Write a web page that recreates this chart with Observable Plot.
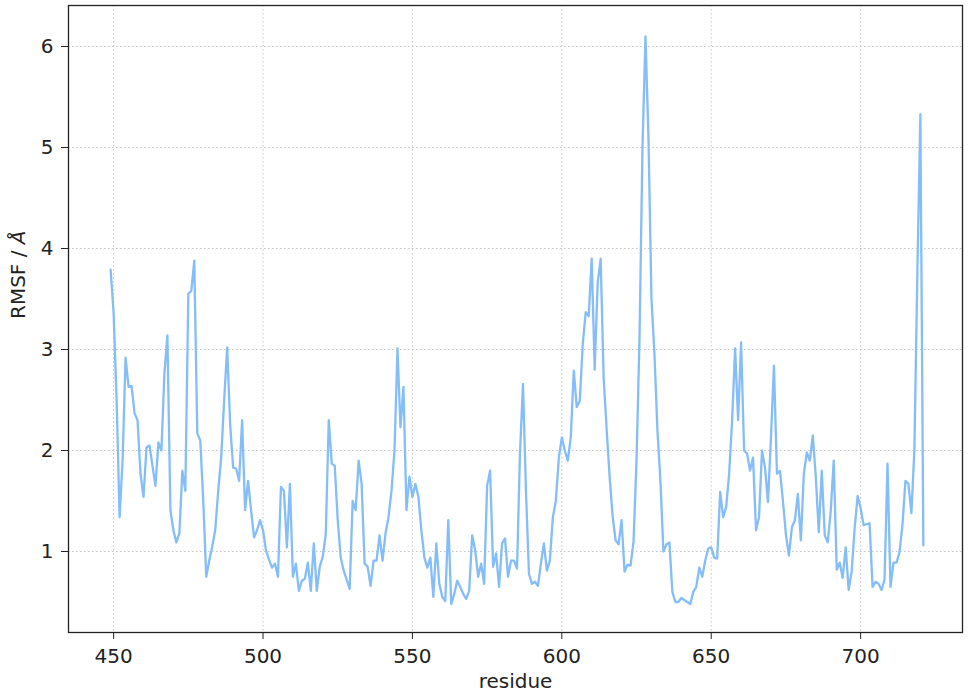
<!DOCTYPE html>
<html>
<head>
<meta charset="utf-8">
<script src="https://cdn.jsdelivr.net/npm/d3@7"></script>
<script src="https://cdn.jsdelivr.net/npm/@observablehq/plot@0.6"></script>
<style>
  body { margin: 0; background: #fff; }
  #chart svg { display: block; }
</style>
</head>
<body>
<div id="chart"></div>
<script>
// Residue numbers 449..721
const residues = d3.range(449, 722);

// RMSF values (Å), one per residue
const rmsf = [
  3.79, 3.36, 2.50, 1.34, 1.90, 2.92, 2.63, 2.64, 2.37, 2.30,
  1.77, 1.54, 2.03, 2.05, 1.85, 1.65, 2.08, 2.00, 2.76, 3.14,
  1.41, 1.21, 1.09, 1.18, 1.80, 1.60, 3.55, 3.58, 3.88, 2.17,
  2.10, 1.50, 0.75, 0.91, 1.05, 1.21, 1.60, 1.93, 2.50, 3.02,
  2.26, 1.83, 1.82, 1.70, 2.30, 1.41, 1.70, 1.41, 1.14, 1.21,
  1.31, 1.21, 1.01, 0.92, 0.84, 0.88, 0.75, 1.64, 1.60, 1.04,
  1.67, 0.75, 0.88, 0.61, 0.71, 0.73, 0.89, 0.61, 1.08, 0.61,
  0.85, 0.95, 1.17, 2.30, 1.87, 1.85, 1.31, 0.94, 0.81, 0.72,
  0.63, 1.50, 1.41, 1.90, 1.67, 0.88, 0.85, 0.66, 0.91, 0.91,
  1.16, 0.91, 1.18, 1.34, 1.60, 2.00, 3.01, 2.23, 2.63, 1.41,
  1.74, 1.54, 1.67, 1.54, 1.21, 0.94, 0.84, 0.94, 0.55, 1.08,
  0.68, 0.55, 0.51, 1.31, 0.48, 0.58, 0.71, 0.65, 0.58, 0.53,
  0.61, 1.16, 1.01, 0.75, 0.88, 0.68, 1.65, 1.80, 0.85, 0.98,
  0.65, 1.08, 1.13, 0.75, 0.91, 0.91, 0.83, 1.97, 2.66, 1.60,
  0.78, 0.68, 0.70, 0.66, 0.88, 1.08, 0.81, 0.91, 1.34, 1.50,
  1.93, 2.13, 2.00, 1.90, 2.13, 2.79, 2.43, 2.49, 3.05, 3.37,
  3.33, 3.90, 2.80, 3.66, 3.90, 2.72, 2.21, 1.74, 1.35, 1.11,
  1.07, 1.31, 0.80, 0.87, 0.86, 1.10, 1.90, 3.11, 5.00, 6.10,
  5.10, 3.50, 2.96, 2.20, 1.70, 1.00, 1.07, 1.09, 0.60, 0.50,
  0.50, 0.54, 0.52, 0.50, 0.48, 0.60, 0.65, 0.84, 0.75, 0.91,
  1.03, 1.04, 0.94, 0.93, 1.59, 1.34, 1.44, 1.77, 2.30, 3.01,
  2.30, 3.07, 2.00, 1.97, 1.80, 1.93, 1.21, 1.34, 2.00, 1.83,
  1.49, 2.13, 2.84, 1.77, 1.80, 1.50, 1.17, 0.96, 1.24, 1.31,
  1.57, 1.11, 1.77, 1.98, 1.90, 2.15, 1.74, 1.19, 1.80, 1.16,
  1.09, 1.40, 1.90, 0.82, 0.89, 0.74, 1.04, 0.62, 0.80, 1.23,
  1.55, 1.43, 1.26, 1.27, 1.28, 0.65, 0.70, 0.68, 0.62, 0.72,
  1.87, 0.65, 0.89, 0.89, 0.99, 1.26, 1.70, 1.67, 1.38, 2.01,
  3.77, 5.33, 1.06
];

const xTicks = [450, 500, 550, 600, 650, 700];
const yTicks = [1, 2, 3, 4, 5, 6];
const xLabel = "residue";
const yLabel = "RMSF / Å";

const data = residues.map((r, i) => ({residue: r, rmsf: rmsf[i]}));

const font = "DejaVu Sans, sans-serif";
const gridStyle = {stroke: "#c4c4c4", strokeOpacity: 1, strokeWidth: 1, strokeDasharray: "1.5,2.5"};

const chart = Plot.plot({
  width: 969,
  height: 699,
  marginLeft: 68,
  marginRight: 7,
  marginTop: 5,
  marginBottom: 67,
  style: {fontFamily: font, fontSize: "20px", color: "#222", background: "#fff"},
  x: {domain: [434.9, 734.1], label: null},
  y: {domain: [0.198, 6.406], label: null},
  marks: [
    Plot.gridX(xTicks, gridStyle),
    Plot.gridY(yTicks, gridStyle),
    Plot.line(data, {x: "residue", y: "rmsf", stroke: "#84bdf8", strokeWidth: 2.3}),
    Plot.frame({stroke: "#222", strokeWidth: 1.3}),
    Plot.axisX(xTicks, {tickSize: 7, tickPadding: 9, tickFormat: d3.format("d"), fontSize: 20, label: null}),
    Plot.axisY(yTicks, {tickSize: 7, tickPadding: 8, tickFormat: d3.format("d"), fontSize: 20, label: null}),
    Plot.text([xLabel], {frameAnchor: "bottom", dy: 55, fontSize: 20, fill: "#222"}),
    Plot.text([yLabel], {frameAnchor: "left", dx: -50, rotate: -90, fontSize: 20, fill: "#222"})
  ]
});

document.getElementById("chart").appendChild(chart);

// Italicise the Ångström symbol as in the reference
d3.select(chart).selectAll("text").each(function() {
  if (this.textContent === yLabel) {
    const t = d3.select(this);
    t.text("RMSF / ");
    t.append("tspan").attr("font-style", "italic").text("Å");
  }
});
</script>
</body>
</html>
